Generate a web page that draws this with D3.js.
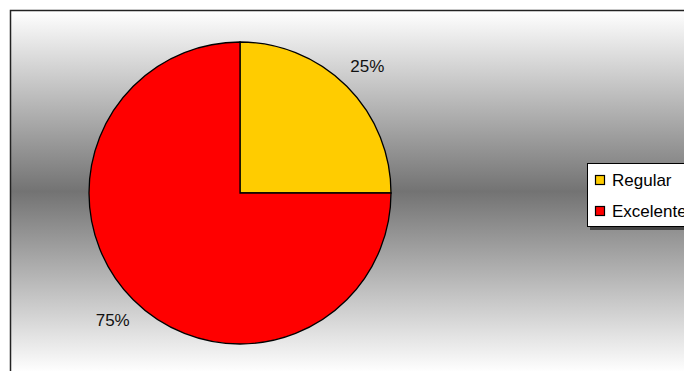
<!DOCTYPE html>
<html><head><meta charset="utf-8">
<script src="https://cdn.jsdelivr.net/npm/d3@7"></script>
<style>html,body{margin:0;padding:0;background:#fff;overflow:hidden}</style>
</head><body>
<svg id="c" width="684" height="371"></svg>
<script>
const categories = ["Regular", "Excelente"];
const values = [25, 75];
const colors = ["#FFCC00", "#FF0000"];

const svg = d3.select("#c");
const defs = svg.append("defs");
const g = defs.append("linearGradient").attr("id","bg").attr("x1",0).attr("y1",0).attr("x2",0).attr("y2",1);
g.append("stop").attr("offset","0%").attr("stop-color","#ffffff");
g.append("stop").attr("offset","50%").attr("stop-color","#737373");
g.append("stop").attr("offset","100%").attr("stop-color","#ffffff");

svg.append("rect").attr("x",10.5).attr("y",10.5).attr("width",690).attr("height",362)
  .attr("fill","url(#bg)").attr("stroke","#222").attr("stroke-width",1.5);

const cx = 240, cy = 193, r = 151;
const pie = d3.pie().sort(null).value(d => d)(values);
const arc = d3.arc().innerRadius(0).outerRadius(r);
const pg = svg.append("g").attr("transform",`translate(${cx},${cy})`);
pg.selectAll("path").data(pie).join("path")
  .attr("d", arc).attr("fill",(d,i)=>colors[i]).attr("stroke","#000").attr("stroke-width",1.3);

const fmt = d => d3.format(".0%")(d.data/d3.sum(values));
pg.selectAll("text").data(pie).join("text")
  .attr("transform", d => {
    const [x,y] = d3.arc().innerRadius(r+29).outerRadius(r+29).centroid(d);
    return `translate(${x},${y})`;
  })
  .attr("text-anchor","middle").attr("dy","0.35em")
  .attr("font-family","Arial, 'Liberation Sans', sans-serif").attr("font-size",17).attr("fill","#111")
  .text(d => fmt(d));

// legend
const lx = 587, ly = 163;
svg.append("rect").attr("x",lx+3).attr("y",ly+3).attr("width",120).attr("height",64).attr("fill","#444");
svg.append("rect").attr("x",lx+0.5).attr("y",ly+0.5).attr("width",120).attr("height",63).attr("fill","#fff").attr("stroke","#000").attr("stroke-width",1);
const li = svg.append("g").selectAll("g").data(categories).join("g")
  .attr("transform",(d,i)=>`translate(${lx+8},${ly+12+i*31})`);
li.append("rect").attr("x",0.5).attr("y",0.5).attr("width",9).attr("height",9)
  .attr("fill",(d,i)=>colors[i]).attr("stroke","#000").attr("stroke-width",1.2);
li.append("text").attr("x",17).attr("y",5).attr("dy","0.36em")
  .attr("font-family","Arial, 'Liberation Sans', sans-serif").attr("font-size",17).attr("fill","#000")
  .text(d=>d);
</script>
</body></html>
